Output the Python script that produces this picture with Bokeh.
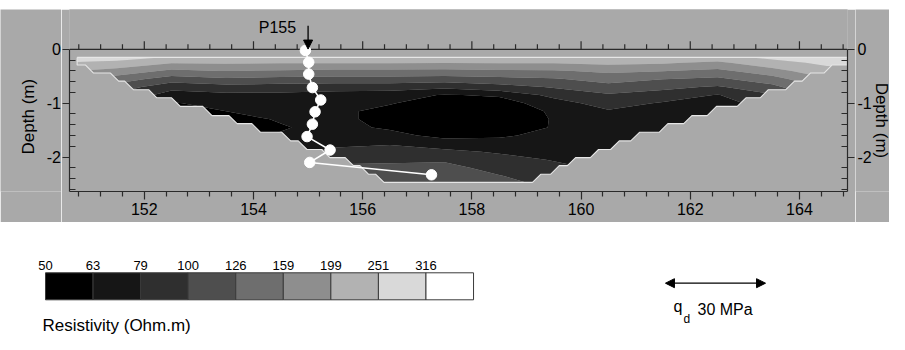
import numpy as np
from bokeh.plotting import figure
from bokeh.layouts import column, row, Spacer
from bokeh.models import Range1d, LinearAxis, FixedTicker, Arrow, NormalHead
from bokeh.embed import file_html
from bokeh.resources import INLINE
from bokeh.core.properties import value

FONT = "Liberation Sans"
BG = "#a9a9a9"
AX = "#2a2a2a"

# ---------------- data ----------------
levels = [50, 63, 79, 100, 126, 159, 199, 251, 316]          # colour-bar labels (Ohm.m)
band_colors = ["#000000", "#161616", "#2f2f2f", "#4e4e4e", "#6e6e6e",
               "#8e8e8e", "#b2b2b2", "#d9d9d9", "#ffffff"]

x_ticks = [152, 154, 156, 158, 160, 162, 164]
y_ticks = [0, -1, -2]
y_tick_labels = ["0", "-1", "-2"]
axis_title = "Depth (m)"

grid_x = [150.6, 151.5, 152.5, 153.5, 154.5, 155.5, 156.5, 157.5,
          158.5, 159.5, 160.5, 161.5, 162.5, 163.5, 164.5, 165.0]
grid_depth = [0.10, 0.25, 0.40, 0.55, 0.70, 0.85, 1.00, 1.15, 1.30,
              1.45, 1.60, 1.75, 1.90, 2.05, 2.20, 2.35, 2.50]
# resistivity (Ohm.m) read per column (one list per grid_x, top to bottom)
rho_columns = [
    [308, 248, 202, 160, 127, 104, 91, 83, 77, 74, 72, 72, 74, 76, 77, 80, 81],
    [301, 234, 182, 141, 112, 95, 83, 76, 71, 67, 66, 67, 69, 72, 76, 80, 83],
    [269, 201, 151, 112, 85, 71, 62, 59, 59, 60, 64, 66, 69, 72, 76, 80, 83],
    [269, 204, 160, 121, 91, 74, 67, 63, 59, 57, 59, 62, 66, 71, 76, 80, 83],
    [262, 201, 155, 117, 89, 74, 69, 67, 64, 62, 64, 67, 76, 85, 93, 101, 104],
    [262, 201, 151, 115, 87, 72, 68, 66, 66, 67, 70, 75, 83, 95, 104, 112, 120],
    [262, 201, 151, 115, 87, 69, 64, 59, 59, 61, 67, 77, 89, 97, 104, 112, 120],
    [262, 201, 149, 112, 83, 62, 55, 52, 52, 54, 59, 70, 83, 97, 107, 112, 117],
    [262, 201, 153, 117, 91, 65, 56, 54, 53, 55, 61, 68, 77, 85, 92, 101, 107],
    [262, 201, 155, 123, 102, 84, 71, 65, 64, 64, 67, 71, 75, 78, 83, 89, 95],
    [248, 209, 166, 138, 115, 97, 87, 77, 72, 69, 67, 67, 69, 72, 76, 80, 83],
    [256, 204, 160, 127, 106, 90, 77, 71, 65, 66, 67, 69, 71, 72, 74, 76, 77],
    [248, 190, 149, 120, 97, 78, 72, 68, 66, 67, 69, 71, 72, 74, 76, 77, 78],
    [282, 229, 182, 144, 117, 97, 87, 81, 80, 80, 80, 80, 80, 80, 80, 80, 80],
    [308, 265, 229, 195, 166, 141, 120, 104, 95, 89, 85, 83, 81, 80, 80, 80, 80],
    [308, 269, 234, 201, 169, 144, 123, 107, 97, 91, 87, 85, 83, 81, 80, 80, 80],
]

# pseudo-section coverage: depth of each data row and its left / right extent (m)
row_depth = [0.15, 0.29, 0.44, 0.59, 0.75, 0.90, 1.06, 1.23,
             1.38, 1.54, 1.70, 1.86, 2.01, 2.16, 2.32, 2.47]
row_left = [150.77, 150.77, 151.07, 151.53, 151.80, 152.23, 152.66, 153.24,
            153.70, 154.13, 154.68, 154.98, 155.40, 155.83, 156.11, 156.39]
row_right = [164.88, 164.88, 164.45, 164.05, 163.75, 163.28, 162.86, 162.31,
             161.88, 161.43, 160.91, 160.54, 160.17, 159.75, 159.44, 159.11]

# penetrometer P155: depth (m) and cone resistance q_d (MPa)
profile_name = "P155"
profile_pos = 155.0
qd_depth = [0.02, 0.24, 0.46, 0.71, 0.94, 1.16, 1.39, 1.62, 1.87, 2.10, 2.33]
qd_mpa = [0.5, 1.5, 1.5, 2.6, 5.1, 3.4, 2.6, 1.0, 7.9, 1.8, 38.3]
qd_scale_mpa = 30            # length of the scale arrow
qd_scale_m = 1.833           # horizontal metres drawn for qd_scale_mpa
qd_origin = 154.92

# ---------------- geometry ----------------
TOTAL_W = 889
TOP_GAP = 9
H1 = 213
H2 = 112
LW, RW = 61, 34                 # side panels holding the y labels
MB_L, MB_R, MB_B = 8, 8, 31
FRAME_W = 778
MW = MB_L + FRAME_W + MB_R
XR = (150.63, 164.88)
YR = (-2.64, 0.74)
FRAME_H = H1 - MB_B
ppy = FRAME_H / (YR[1] - YR[0])

x_minor = [round(v, 2) for v in np.arange(150.8, XR[1], 0.4) if abs(v - round(v)) > 1e-6 or round(v) % 2]
y_minor = [round(v, 2) for v in np.arange(-2.6, 0.01, 0.2) if abs(v - round(v)) > 1e-6]

p = figure(width=MW, height=H1, x_range=Range1d(*XR), y_range=Range1d(*YR),
           output_backend="svg", toolbar_location=None,
           min_border_left=MB_L, min_border_right=MB_R,
           min_border_top=0, min_border_bottom=MB_B,
           background_fill_color=BG, border_fill_color=BG,
           outline_line_color=None)
p.grid.visible = False

# filled contours
z = np.array(rho_columns, dtype=float).T
ys = -np.array(grid_depth)
order = np.argsort(ys)
contour_levels = [1] + levels[1:] + [10000]
p.contour(np.array(grid_x), ys[order], z[order, :], contour_levels,
          fill_color=band_colors)

# data-coverage polygon (stepped pseudo-section outline)
px, py = [row_left[0], row_right[0]], [row_depth[0], row_depth[0]]
n = len(row_depth)
for k in range(n - 1):
    step = row_depth[k + 1] - row_depth[k]
    diag = min(step, row_right[k] - row_right[k + 1])
    px += [row_right[k + 1] + diag, row_right[k + 1]]
    py += [row_depth[k], row_depth[k + 1]]
px.append(row_left[-1]); py.append(row_depth[-1])
for k in range(n - 1, 0, -1):
    step = row_depth[k] - row_depth[k - 1]
    diag = min(step, row_left[k] - row_left[k - 1])
    px += [row_left[k] - diag, row_left[k - 1]]
    py += [row_depth[k - 1], row_depth[k - 1]]
poly_x = px
poly_y = [-d for d in py]

# grey mask outside the coverage (outer rectangle + reversed hole)
ox = [XR[0] - 1, XR[1] + 1, XR[1] + 1, XR[0] - 1, XR[0] - 1]
oy = [1.5, 1.5, -3.5, -3.5, 1.5]
mask_x = ox + [poly_x[0]] + poly_x[::-1] + [ox[0]]
mask_y = oy + [poly_y[0]] + poly_y[::-1] + [oy[0]]
p.patch(mask_x, mask_y, fill_color=BG, line_color=None)
p.line(poly_x + [poly_x[0]], poly_y + [poly_y[0]], line_color="#e6e6e6", line_width=1.1)

# top axis at depth 0 (ticks pointing up)
p.segment(x0=[XR[0]], y0=[0], x1=[XR[1]], y1=[0], line_color=AX, line_width=1.2)
p.segment(x0=x_ticks, y0=[0] * len(x_ticks), x1=x_ticks, y1=[8 / ppy] * len(x_ticks),
          line_color=AX, line_width=1.2)
p.segment(x0=x_minor, y0=[0] * len(x_minor), x1=x_minor, y1=[5 / ppy] * len(x_minor),
          line_color=AX, line_width=1.2)

# penetrometer profile
m_per_mpa = qd_scale_m / qd_scale_mpa
prof_x = [qd_origin + q * m_per_mpa for q in qd_mpa]
prof_y = [-d for d in qd_depth]
p.line(prof_x, prof_y, line_color="white", line_width=1.6)
p.scatter(prof_x, prof_y, marker="circle", size=10.5, fill_color="white", line_color="white")

# P155 marker above the section
p.add_layout(Arrow(x_start=profile_pos, y_start=0.44, x_end=profile_pos, y_end=0.005,
                   line_color="black", line_width=1.3,
                   end=NormalHead(size=9, fill_color="black", line_color="black")))
p.text(x=[profile_pos], y=[0.40], x_offset=-12, text=[profile_name],
       text_align="right", text_baseline="middle",
       text_font=value(FONT), text_font_size="16px", text_color="black")

# bottom axis
bx = p.xaxis[0]
bx.ticker = FixedTicker(ticks=x_ticks, minor_ticks=x_minor)
bx.axis_line_color = AX; bx.axis_line_width = 1.2
bx.major_tick_line_color = AX; bx.minor_tick_line_color = AX
bx.major_tick_line_width = 1.2; bx.minor_tick_line_width = 1.2
bx.major_tick_out = 8; bx.major_tick_in = 0
bx.minor_tick_out = 5; bx.minor_tick_in = 0
bx.major_label_text_font = FONT
bx.major_label_text_font_size = "16px"
bx.major_label_text_color = "black"
bx.major_label_standoff = 3

def style_v(ax):
    ax.ticker = FixedTicker(ticks=y_ticks, minor_ticks=y_minor)
    ax.bounds = (YR[0], 0)
    ax.axis_line_color = AX; ax.axis_line_width = 1.2
    ax.major_tick_line_color = AX; ax.minor_tick_line_color = AX
    ax.major_tick_line_width = 1.2; ax.minor_tick_line_width = 1.2
    ax.major_tick_out = 7; ax.major_tick_in = 0
    ax.minor_tick_out = 0; ax.minor_tick_in = 6
    # labels are drawn in the side panels; keep the axis' own labels invisible
    ax.major_label_text_font_size = "1px"
    ax.major_label_text_color = None
    ax.major_label_standoff = 0

style_v(p.yaxis[0])
right_axis = LinearAxis()
style_v(right_axis)
p.add_layout(right_axis, "right")

# side panels with the depth labels (share the vertical range)
def side_panel(w):
    f = figure(width=w, height=H1, x_range=Range1d(0, w), y_range=p.y_range,
               output_backend="svg", toolbar_location=None,
               min_border_left=0, min_border_right=0, min_border_top=0,
               min_border_bottom=MB_B, x_axis_type=None, y_axis_type=None,
               background_fill_color=BG, border_fill_color=BG, outline_line_color=None)
    f.grid.visible = False
    return f

lf = side_panel(LW)
lf.text(x=[LW - 0.5] * len(y_ticks), y=y_ticks, text=y_tick_labels, text_align="right",
        text_baseline="middle", text_font=value(FONT), text_font_size="16px", text_color="black")
lf.text(x=[27.5], y=[-1.25], text=[axis_title], angle=np.pi / 2, text_align="center",
        text_baseline="middle", text_font=value(FONT), text_font_size="17px", text_color="black")

rf = side_panel(RW)
rf.text(x=[2] * len(y_ticks), y=y_ticks, text=y_tick_labels, text_align="left",
        text_baseline="middle", text_font=value(FONT), text_font_size="16px", text_color="black")
rf.text(x=[25.5], y=[-1.32], text=[axis_title], angle=-np.pi / 2, text_align="center",
        text_baseline="middle", text_font=value(FONT), text_font_size="17px", text_color="black")

# ---------------- legend strip ----------------
q = figure(width=TOTAL_W, height=H2, x_range=Range1d(0, TOTAL_W), y_range=Range1d(H2, 0),
           output_backend="svg", toolbar_location=None, min_border=0,
           x_axis_type=None, y_axis_type=None, outline_line_color=None,
           background_fill_color="white", border_fill_color="white")
q.grid.visible = False

cb_x0, cb_w, cb_top, cb_bot = 45.0, 47.56, 50.3, 77.3
lefts = [cb_x0 + i * cb_w for i in range(len(band_colors))]
q.quad(left=lefts, right=[l + cb_w for l in lefts], top=[cb_top] * len(lefts),
       bottom=[cb_bot] * len(lefts), fill_color=band_colors,
       line_color="#3a3a3a", line_width=1)
q.text(x=lefts[:len(levels)], y=[43.3] * len(levels), text=[str(v) for v in levels],
       text_align="center", text_baseline="middle",
       text_font=value(FONT), text_font_size="13px", text_color="black")
q.text(x=[42], y=[102.5], text=["Resistivity (Ohm.m)"], text_align="left",
       text_baseline="middle", text_font=value(FONT), text_font_size="17px",
       text_color="black")

# q_d scale arrow, same horizontal scale as the section
px_per_m = FRAME_W / (XR[1] - XR[0])
arrow_len = qd_scale_mpa * m_per_mpa * px_per_m
ac = 715.0
q.add_layout(Arrow(x_start=ac - arrow_len / 2, y_start=60.7, x_end=ac + arrow_len / 2, y_end=60.7,
                   line_color="black", line_width=1.3,
                   start=NormalHead(size=9, fill_color="black", line_color="black"),
                   end=NormalHead(size=9, fill_color="black", line_color="black")))
q.text(x=[673], y=[83.5], text=["q"], text_align="left", text_baseline="middle",
       text_font=value(FONT), text_font_size="16px", text_color="black")
q.text(x=[683], y=[96.5], text=["d"], text_align="left", text_baseline="middle",
       text_font=value(FONT), text_font_size="12px", text_color="black")
q.text(x=[697], y=[86.5], text=["%d MPa" % qd_scale_mpa], text_align="left",
       text_baseline="middle", text_font=value(FONT), text_font_size="16px",
       text_color="black")

layout = column(Spacer(width=TOTAL_W, height=TOP_GAP), row(lf, p, rf), q)
open("out.html", "w").write(file_html(layout, INLINE))
